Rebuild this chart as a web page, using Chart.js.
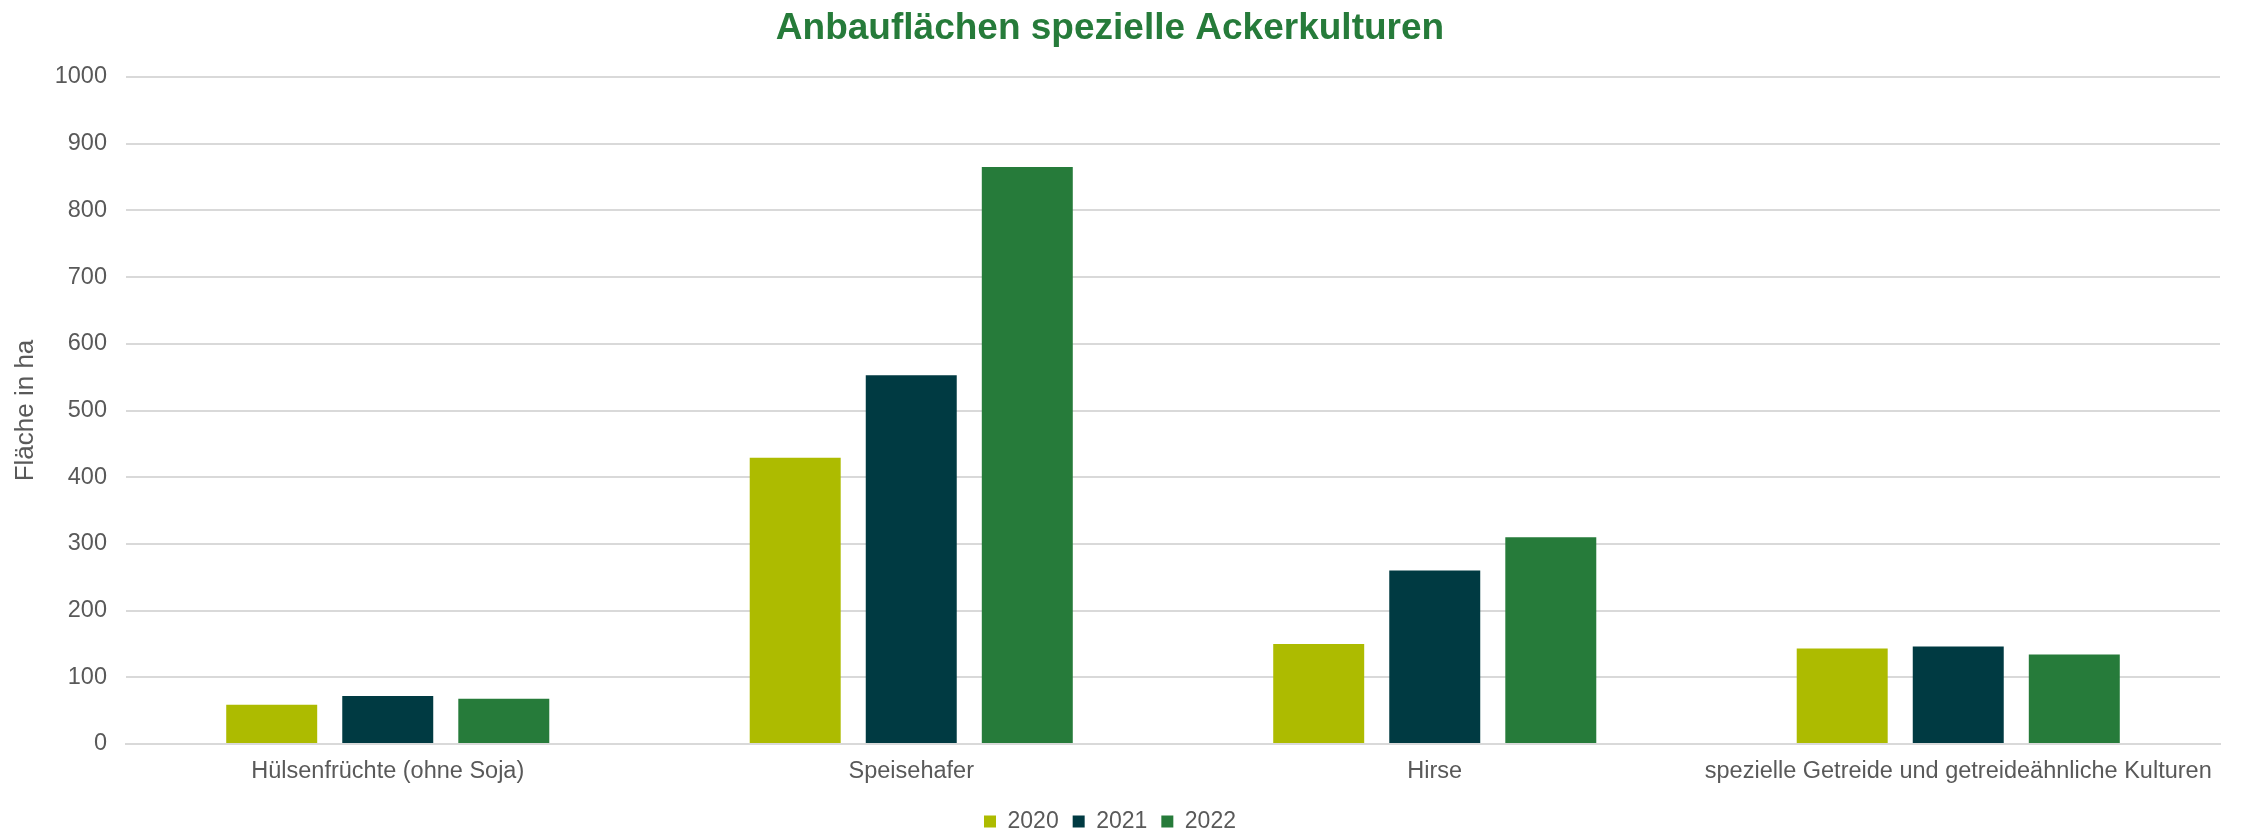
<!DOCTYPE html>
<html>
<head>
<meta charset="utf-8">
<script src="https://cdn.jsdelivr.net/npm/chart.js@4"></script>
<style>
  html, body { margin: 0; padding: 0; background: #fff; }
  #wrap { width: 2242px; height: 832px; }
</style>
</head>
<body>
<div id="wrap"><canvas id="chart"></canvas></div>
<script>
const categories = [
  "Hülsenfrüchte (ohne Soja)",
  "Speisehafer",
  "Hirse",
  "spezielle Getreide und getreideähnliche Kulturen"
]
const years = ["2020", "2021", "2022"]
const values2020 = [59, 429, 150, 143]
const values2021 = [72, 553, 260, 146]
const values2022 = [68, 865, 310, 134]
const yTicks = [0, 100, 200, 300, 400, 500, 600, 700, 800, 900, 1000]

const colors = ["#adbb00", "#003a42", "#267b3a"]
const font = "'Liberation Sans', Arial, sans-serif"
const textColor = "#595959"

const series = [values2020, values2021, values2022]

new Chart(document.getElementById("chart"), {
  type: "bar",
  data: {
    labels: categories,
    datasets: series.map((vals, i) => ({
      label: years[i],
      data: vals,
      backgroundColor: colors[i],
      categoryPercentage: 0.665,
      barPercentage: 0.784
    }))
  },
  options: {
    responsive: true,
    maintainAspectRatio: false,
    animation: false,
    layout: {
      padding: { left: 0, right: 22, top: 0, bottom: -11 }
    },
    plugins: {
      title: {
        display: true,
        text: "Anbauflächen spezielle Ackerkulturen",
        color: "#267b3a",
        font: { family: font, size: 37, weight: "bold" },
        padding: { top: 7, bottom: 25.6 }
      },
      legend: {
        position: "bottom",
        labels: {
          color: textColor,
          font: { family: font, size: 23 },
          boxWidth: 12,
          boxHeight: 12,
          padding: 14
        }
      },
      tooltip: { enabled: false }
    },
    scales: {
      x: {
        grid: { display: false },
        border: { color: "#d9d9d9", width: 2 },
        ticks: {
          color: textColor,
          font: { family: font, size: 23.5 },
          padding: 5,
          maxRotation: 0,
          autoSkip: false
        },
        afterFit: (axis) => { axis.height = 52 }
      },
      y: {
        min: 0,
        max: 1000,
        afterBuildTicks: (axis) => {
          axis.ticks = yTicks.map(v => ({ value: v }))
        },
        afterFit: (axis) => { axis.width = 126 },
        grid: { color: "#d9d9d9", lineWidth: 2, drawTicks: false },
        border: { display: false },
        ticks: {
          color: textColor,
          font: { family: font, size: 23.5 },
          padding: 19,
          callback: (value) => String(value)
        },
        title: {
          display: true,
          text: "Fläche in ha",
          color: textColor,
          font: { family: font, size: 26 },
          padding: { top: 10, bottom: 0 }
        }
      }
    }
  }
})
</script>
</body>
</html>
